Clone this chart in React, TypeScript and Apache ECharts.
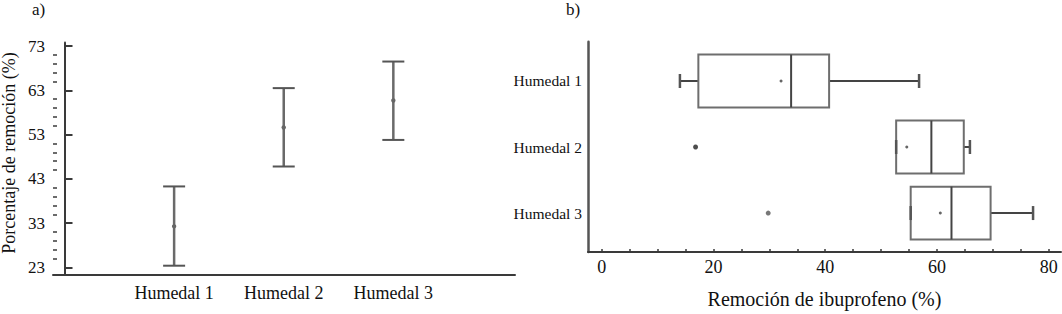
import React, { useEffect, useRef } from "react";
import * as echarts from "echarts";

// ---- data ----
const categories = ["Humedal 1", "Humedal 2", "Humedal 3"];
// panel a: mean removal with interval
const meanRemoval = [32.3, 54.6, 60.7];
const ciLow = [23.4, 45.8, 51.8];
const ciHigh = [41.3, 63.5, 69.5];
const yTicksA = [23, 33, 43, 53, 63, 73];
const yMinorTicksA = [25, 27, 29, 31, 35, 37, 39, 41, 45, 47, 49, 51, 55, 57, 59, 61, 65, 67, 69, 71];
// panel b: box plot of ibuprofen removal
const whiskerLow = [14.0, 52.7, 55.3];
const q1 = [17.3, 52.7, 55.3];
const median = [33.9, 59.0, 62.6];
const q3 = [40.7, 64.8, 69.6];
const whiskerHigh = [56.8, 65.9, 77.2];
const boxMean = [32.1, 54.6, 60.6];
const outlierValues = [16.8, 29.8];
const outlierCategory = [2, 3];
const xLabelsB = [0, 20, 40, 60, 80];
const xTicksB = [0, 5, 10, 15, 20, 25, 30, 35, 40, 45, 50, 55, 60, 65, 70, 75, 80];

const FONT = "Liberation Serif";

export default function App() {
  const ref = useRef<HTMLDivElement>(null);
  useEffect(() => {
    if (!ref.current) return;
    const chart = echarts.init(ref.current, undefined, { renderer: "svg" });

    const errData = categories.map((_, i) => [i + 1, ciLow[i], ciHigh[i], meanRemoval[i]]);
    const boxData = categories.map((_, i) => [
      i + 1,
      whiskerLow[i],
      q1[i],
      median[i],
      q3[i],
      whiskerHigh[i],
      boxMean[i],
    ]);
    const outlierData = outlierValues.map((v, i) => [v, outlierCategory[i]]);

    const option: any = {
      animation: false,
      backgroundColor: "#fff",
      textStyle: { fontFamily: FONT },
      graphic: [
        {
          type: "text",
          left: 32,
          top: 1,
          style: { text: "a)", font: `17px "${FONT}"`, fill: "#111" },
        },
        {
          type: "text",
          left: 566,
          top: 1,
          style: { text: "b)", font: `17px "${FONT}"`, fill: "#111" },
        },
        {
          type: "text",
          x: 9,
          y: 153,
          rotation: Math.PI / 2,
          style: {
            text: "Porcentaje de remoción (%)",
            font: `18px "${FONT}"`,
            fill: "#111",
            textAlign: "center",
            textVerticalAlign: "middle",
          },
        },
      ],
      grid: [
        { left: 53, right: 1062 - 515, top: 42.5, bottom: 314 - 275, containLabel: false },
        { left: 588, right: 1, top: 41.7, bottom: 314 - 255.5, containLabel: false },
      ],
      xAxis: [
        {
          type: "value",
          gridIndex: 0,
          min: -0.105,
          max: 4.11,
          splitLine: { show: false },
          axisLine: { show: true, lineStyle: { color: "#3a3a3a", width: 2 } },
          axisTick: { show: false },
          axisLabel: {
            customValues: [1, 2, 3],
            formatter: (v: number) => categories[Math.round(v) - 1] ?? "",
            fontFamily: FONT,
            fontSize: 18,
            color: "#111",
            margin: 9,
          },
        },
        {
          type: "value",
          gridIndex: 1,
          min: -2.45,
          max: 82.2,
          splitLine: { show: false },
          axisLine: { show: true, onZero: false, lineStyle: { color: "#3a3a3a", width: 2 } },
          axisTick: {
            show: true,
            inside: true,
            length: 3,
            customValues: xTicksB,
            lineStyle: { color: "#3a3a3a", width: 1.5 },
          },
          axisLabel: {
            customValues: xLabelsB,
            fontFamily: FONT,
            fontSize: 18,
            color: "#111",
            margin: 6,
          },
          name: "Remoción de ibuprofeno (%)",
          nameLocation: "middle",
          nameGap: 37,
          nameTextStyle: { fontFamily: FONT, fontSize: 20, color: "#111" },
        },
      ],
      yAxis: [
        {
          type: "value",
          gridIndex: 0,
          position: "left",
          min: 21.3,
          max: 73.8,
          splitLine: { show: false },
          axisLine: { show: true, lineStyle: { color: "#3a3a3a", width: 2 } },
          axisTick: {
            show: true,
            inside: true,
            length: 8,
            customValues: yTicksA,
            lineStyle: { color: "#3a3a3a", width: 2 },
          },
          axisLabel: {
            customValues: yTicksA,
            fontFamily: FONT,
            fontSize: 17,
            color: "#111",
            margin: 8,
          },
        },
        {
          type: "value",
          gridIndex: 0,
          position: "left",
          offset: 0,
          min: 21.3,
          max: 73.8,
          splitLine: { show: false },
          axisLine: { show: false },
          axisTick: {
            show: true,
            inside: true,
            length: 4,
            customValues: yMinorTicksA,
            lineStyle: { color: "#3a3a3a", width: 1.5 },
          },
          axisLabel: { show: false },
        },
        {
          type: "value",
          gridIndex: 1,
          position: "left",
          min: 0.405,
          max: 3.59,
          inverse: true,
          splitLine: { show: false },
          axisLine: { show: true, onZero: false, lineStyle: { color: "#555", width: 2.5 } },
          axisTick: { show: false },
          axisLabel: {
            customValues: [1, 2, 3],
            formatter: (v: number) => categories[Math.round(v) - 1] ?? "",
            fontFamily: FONT,
            fontSize: 15.5,
            color: "#111",
            margin: 6,
          },
        },
      ],
      series: [
        {
          type: "custom",
          xAxisIndex: 0,
          yAxisIndex: 0,
          data: errData,
          encode: { x: 0, y: [1, 2, 3] },
          renderItem: (params: any, api: any) => {
            const x = api.value(0);
            const pL = api.coord([x, api.value(1)]);
            const pH = api.coord([x, api.value(2)]);
            const pM = api.coord([x, api.value(3)]);
            const cw = 11;
            return {
              type: "group",
              children: [
                {
                  type: "line",
                  shape: { x1: pH[0], y1: pH[1], x2: pL[0], y2: pL[1] },
                  style: { stroke: "#6a6a6a", lineWidth: 2.5 },
                },
                {
                  type: "line",
                  shape: { x1: pH[0] - cw, y1: pH[1], x2: pH[0] + cw, y2: pH[1] },
                  style: { stroke: "#555", lineWidth: 2 },
                },
                {
                  type: "line",
                  shape: { x1: pL[0] - cw, y1: pL[1], x2: pL[0] + cw, y2: pL[1] },
                  style: { stroke: "#555", lineWidth: 2 },
                },
                {
                  type: "circle",
                  shape: { cx: pM[0], cy: pM[1], r: 2.2 },
                  style: { fill: "#666" },
                },
              ],
            };
          },
        },
        {
          type: "custom",
          xAxisIndex: 1,
          yAxisIndex: 2,
          data: boxData,
          encode: { y: 0, x: [1, 2, 3, 4, 5, 6] },
          renderItem: (params: any, api: any) => {
            const c = api.value(0);
            const wl = api.coord([api.value(1), c]);
            const b1 = api.coord([api.value(2), c]);
            const md = api.coord([api.value(3), c]);
            const b3 = api.coord([api.value(4), c]);
            const wh = api.coord([api.value(5), c]);
            const mn = api.coord([api.value(6), c]);
            const h = Math.abs(api.size([0, 0.8])[1]);
            const cy = b1[1];
            const capH = 7;
            return {
              type: "group",
              children: [
                {
                  type: "line",
                  shape: { x1: wl[0], y1: cy, x2: b1[0], y2: cy },
                  style: { stroke: "#444", lineWidth: 2 },
                },
                {
                  type: "line",
                  shape: { x1: b3[0], y1: cy, x2: wh[0], y2: cy },
                  style: { stroke: "#444", lineWidth: 2 },
                },
                {
                  type: "line",
                  shape: { x1: wh[0], y1: cy - capH, x2: wh[0], y2: cy + capH },
                  style: { stroke: "#555", lineWidth: 2.5 },
                },
                {
                  type: "rect",
                  shape: { x: b1[0], y: cy - h / 2, width: b3[0] - b1[0], height: h },
                  style: { fill: "#fff", stroke: "#6e6e6e", lineWidth: 2 },
                },
                {
                  type: "line",
                  shape: { x1: md[0], y1: cy - h / 2, x2: md[0], y2: cy + h / 2 },
                  style: { stroke: "#444", lineWidth: 2 },
                },
                {
                  type: "line",
                  shape: { x1: wl[0], y1: cy - capH, x2: wl[0], y2: cy + capH },
                  style: { stroke: "#555", lineWidth: 2.5 },
                },
                {
                  type: "circle",
                  shape: { cx: mn[0], cy: mn[1], r: 1.5 },
                  style: { fill: "#666" },
                },
              ],
            };
          },
        },
        {
          type: "scatter",
          xAxisIndex: 1,
          yAxisIndex: 2,
          data: outlierData,
          symbol: "circle",
          symbolSize: 5,
          itemStyle: {
            color: (p: any) => (p.dataIndex === 0 ? "#222" : "#555"),
          },
        },
      ],
    };
    chart.setOption(option);
    return () => chart.dispose();
  }, []);
  return (
    <div
      ref={ref}
      style={{ position: "fixed", left: 0, top: 0, width: 1062, height: 314, background: "#fff" }}
    />
  );
}
